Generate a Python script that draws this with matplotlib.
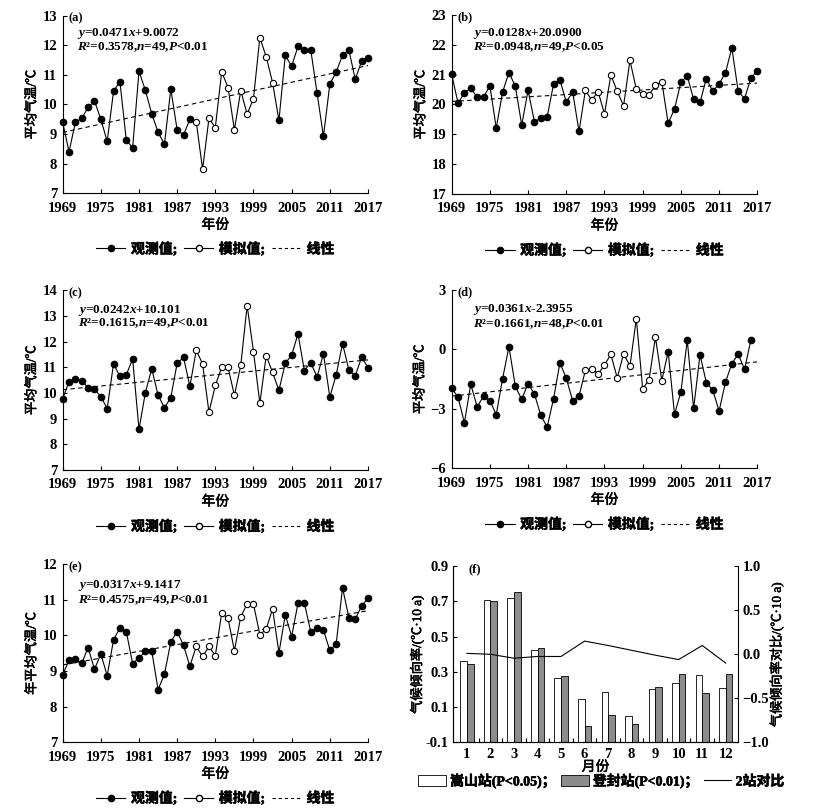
import numpy as np
import matplotlib.pyplot as plt
import matplotlib.patheffects as pe
from matplotlib.lines import Line2D
from matplotlib.patches import Patch

plt.rcParams['font.family'] = ['Liberation Serif', 'Noto Sans CJK SC']
plt.rcParams['font.weight'] = 'bold'
plt.rcParams['font.size'] = 9
plt.rcParams['mathtext.fontset'] = 'custom'
plt.rcParams['mathtext.rm'] = 'Liberation Serif:bold'
plt.rcParams['mathtext.it'] = 'Liberation Serif:italic:bold'
plt.rcParams['mathtext.bf'] = 'Liberation Serif:bold'
plt.rcParams['axes.linewidth'] = 0.8

# fake-bold for the CJK labels
bold_fx = [pe.withStroke(linewidth=0.4, foreground='k')]

years = np.arange(1969, 2018)
sim_years = (1990, 2002)   # simulated values, open markers

# (a)
temp_a = [9.40, 8.40, 9.40, 9.53, 9.90, 10.12, 9.50, 8.75, 10.45, 10.77,
          8.80, 8.54, 11.12, 10.48, 9.69, 9.06, 8.66, 10.52, 9.14, 8.97,
          9.50, 9.41, 7.81, 9.53, 9.22, 11.10, 10.57, 9.14, 10.47, 9.67,
          10.20, 12.26, 11.61, 10.74, 9.46, 11.66, 11.29, 11.96, 11.84, 11.85,
          10.38, 8.92, 10.68, 11.10, 11.66, 11.84, 10.85, 11.46, 11.58]
# (b)
temp_b = [21.02, 20.04, 20.39, 20.55, 20.24, 20.24, 20.63, 19.21, 20.42, 21.07,
          20.61, 19.31, 20.47, 19.42, 19.54, 19.59, 20.68, 20.82, 20.08, 20.42,
          19.10, 20.47, 20.15, 20.43, 19.68, 20.99, 20.44, 19.96, 21.48, 20.51,
          20.34, 20.33, 20.64, 20.77, 19.37, 19.85, 20.75, 20.96, 20.17, 20.07,
          20.87, 20.44, 20.69, 21.06, 21.90, 20.44, 20.20, 20.89, 21.13]
# (c)
temp_c = [9.77, 10.44, 10.55, 10.47, 10.21, 10.14, 9.86, 9.39, 11.14, 10.64,
          10.71, 11.32, 8.58, 10.01, 10.94, 9.92, 9.42, 9.82, 11.16, 11.38,
          10.26, 11.66, 11.13, 9.25, 10.29, 11.00, 11.00, 9.90, 11.08, 13.40,
          11.61, 9.60, 11.45, 10.80, 10.10, 11.16, 11.47, 12.30, 10.87, 11.18,
          10.62, 11.53, 9.84, 10.70, 11.92, 10.90, 10.66, 11.39, 10.99]
# (d) 1969-2016 only
temp_d = [-1.95, -2.42, -3.70, -1.76, -2.89, -2.37, -2.59, -3.29, -1.47, 0.13,
          -1.87, -2.52, -1.73, -2.25, -3.33, -3.92, -2.49, -0.67, -1.46, -2.59,
          -2.35, -1.06, -0.97, -1.24, -0.79, -0.25, -1.44, -0.22, -0.84, 1.55,
          -2.00, -1.53, 0.62, -1.57, -0.12, -3.27, -2.15, 0.47, -2.98, -0.27,
          -1.68, -2.05, -3.11, -1.66, -0.72, -0.24, -1.01, 0.50]
# (e)
temp_e = [8.90, 9.30, 9.33, 9.22, 9.66, 9.05, 9.48, 8.87, 9.88, 10.21,
          10.11, 9.21, 9.37, 9.55, 9.57, 8.48, 8.91, 9.82, 10.11, 9.72,
          9.14, 9.69, 9.41, 9.69, 9.43, 10.63, 10.48, 9.57, 10.53, 10.88,
          10.88, 10.02, 10.18, 10.75, 9.51, 10.58, 9.97, 10.91, 10.91, 10.11,
          10.20, 10.15, 9.58, 9.76, 11.34, 10.50, 10.46, 10.83, 11.04]

slopes = [0.0471, 0.0128, 0.0242, 0.0361, 0.0317]
intercepts = [9.0072, 20.0900, 10.101, -2.3955, 9.1417]
eq_lines = [
    (r'$y$=0.0471$x$+9.0072', r'$R$²=0.3578,$n$=49,$P$<0.01'),
    (r'$y$=0.0128$x$+20.0900', r'$R$²=0.0948,$n$=49,$P$<0.05'),
    (r'$y$=0.0242$x$+10.101', r'$R$²=0.1615,$n$=49,$P$<0.01'),
    (r'$y$=0.0361$x$-2.3955', r'$R$²=0.1661,$n$=48,$P$<0.01'),
    (r'$y$=0.0317$x$+9.1417', r'$R$²=0.4575,$n$=49,$P$<0.01'),
]

# (f)
months = np.arange(1, 13)
rate_songshan = [0.364, 0.709, 0.718, 0.425, 0.267, 0.148, 0.184, 0.052, 0.201, 0.235, 0.284, 0.209]
rate_dengfeng = [0.347, 0.701, 0.754, 0.436, 0.275, -0.009, 0.057, 0.004, 0.213, 0.290, 0.178, 0.286]
rate_diff = [0.01, 0.0, -0.045, -0.025, -0.025, 0.15, 0.10, 0.045, -0.01, -0.06, 0.10, -0.10]

fig = plt.figure(figsize=(8.15, 8.10), dpi=100)

axes_pos = [
    [0.0769, 0.7614, 0.3746, 0.2193],
    [0.5542, 0.7605, 0.3750, 0.2210],
    [0.0769, 0.4198, 0.3746, 0.2219],
    [0.5542, 0.4219, 0.3750, 0.2201],
    [0.0769, 0.0836, 0.3746, 0.2198],
]
ylims = [(7, 13), (17, 23), (7, 14), (-6, 3), (7, 12)]
yticks = [np.arange(7, 14), np.arange(17, 24), np.arange(7, 15), [-6, -3, 0, 3], np.arange(7, 13)]
series = [temp_a, temp_b, temp_c, temp_d, temp_e]
tags = ['(a)', '(b)', '(c)', '(d)', '(e)']
ylabels = ['平均气温/℃'] * 4 + ['年平均气温/℃']
eq_pos = [(0.048, 0.90, 0.822), (0.071, 0.898, 0.819), (0.049, 0.889, 0.818),
          (0.071, 0.888, 0.810), (0.051, 0.88, 0.80)]

leg_handles = [
    Line2D([], [], color='k', lw=0.8, marker='o', ms=4.5, mfc='k', mec='k', label='观测值;'),
    Line2D([], [], color='k', lw=0.8, marker='o', ms=4.5, mfc='white', mec='k', label='模拟值;'),
    Line2D([], [], color='k', lw=0.8, ls=(0, (3, 2.5)), label='线性'),
]

for i in range(5):
    ax = fig.add_axes(axes_pos[i])
    vals = np.array(series[i])
    yrs = years[:len(vals)]
    sim = (yrs >= sim_years[0]) & (yrs <= sim_years[1])

    ax.plot(yrs, vals, color='k', lw=0.8, clip_on=False, zorder=2)
    ax.plot(yrs[~sim], vals[~sim], 'o', ms=4.5, mfc='k', mec='k', clip_on=False, zorder=3)
    ax.plot(yrs[sim], vals[sim], 'o', ms=4.5, mfc='white', mec='k', mew=0.8, clip_on=False, zorder=3)

    idx = years - 1968
    ax.plot(years, slopes[i] * idx + intercepts[i], color='k', lw=0.8,
            ls=(0, (4, 3)), zorder=1)

    ax.set_xlim(1969, 2017)
    ax.set_ylim(*ylims[i])
    ax.set_xticks(np.arange(1969, 2018, 6))
    ax.set_yticks(yticks[i])
    ax.tick_params(direction='in', length=3, width=0.8, labelsize=10.5)
    ax.tick_params(axis='x', pad=6)
    ax.tick_params(axis='y', pad=4)
    for s in ['top', 'right']:
        ax.spines[s].set_visible(False)

    ax.set_xlabel('年份', fontsize=10, labelpad=3, path_effects=bold_fx)
    ax.set_ylabel(ylabels[i], fontsize=9.5, labelpad=3, path_effects=bold_fx)

    ex, ey1, ey2 = eq_pos[i]
    ax.text(0.02, 0.985, tags[i], transform=ax.transAxes, ha='left', va='center', fontsize=9)
    ax.text(ex, ey1, eq_lines[i][0], transform=ax.transAxes, ha='left', va='center', fontsize=9.5)
    ax.text(ex, ey2, eq_lines[i][1], transform=ax.transAxes, ha='left', va='center', fontsize=9.5)

    leg = ax.legend(handles=leg_handles, loc='center', bbox_to_anchor=(0.5, -0.315), ncol=3,
                    frameon=False, fontsize=10, handlelength=2.1, handletextpad=0.4,
                    columnspacing=0.5, borderpad=0)
    for t in leg.get_texts():
        t.set_path_effects(bold_fx)

# (f) monthly climate tendency rate
axf = fig.add_axes([0.5562, 0.0836, 0.3490, 0.2173])
w = 0.28
axf.bar(months - w / 2, np.array(rate_songshan) + 0.1, width=w, bottom=-0.1,
        color='white', edgecolor='k', lw=0.6, zorder=2)
axf.bar(months + w / 2, np.array(rate_dengfeng) + 0.1, width=w, bottom=-0.1,
        color='#8c8c8c', edgecolor='k', lw=0.6, zorder=2)
axf.set_xlim(0.42, 12.51)
axf.set_ylim(-0.1, 0.9)
axf.set_yticks([-0.1, 0.1, 0.3, 0.5, 0.7, 0.9])
axf.set_yticklabels(['-0.1', '0.1', '0.3', '0.5', '0.7', '0.9'])
axf.set_xticks(months)
axf.set_xticks(np.arange(1.5, 12.5, 1), minor=True)
axf.tick_params(axis='x', which='major', length=0, labelsize=10.5, pad=4)
axf.tick_params(axis='x', which='minor', direction='in', length=3, width=0.8)
axf.tick_params(axis='y', direction='in', length=3, width=0.8, labelsize=10.5)
axf.spines['top'].set_visible(False)
axf.spines['right'].set_visible(False)
axf.set_xlabel('月份', fontsize=10, labelpad=0, path_effects=bold_fx)
axf.set_ylabel('气候倾向率/(℃·10 a)', fontsize=9.5, labelpad=1, path_effects=bold_fx)
axf.text(0.053, 0.985, '(f)', transform=axf.transAxes, ha='left', va='center', fontsize=9)

axr = axf.twinx()
axr.plot(months, rate_diff, color='k', lw=0.8)
axr.set_ylim(-1.0, 1.0)
axr.set_yticks([-1.0, -0.5, 0.0, 0.5, 1.0])
axr.set_yticklabels(['−1.0', '−0.5', '0.0', '0.5', '1.0'])
axr.tick_params(axis='y', direction='in', length=3, width=0.8, labelsize=10.5)
axr.spines['top'].set_visible(False)
axr.set_ylabel('气候倾向率对比/(℃·10 a)', fontsize=9.5, labelpad=0, rotation=90,
               path_effects=bold_fx)

f_handles = [
    Patch(facecolor='white', edgecolor='k', lw=0.6, label='嵩山站(P<0.05)；'),
    Patch(facecolor='#8c8c8c', edgecolor='k', lw=0.6, label='登封站(P<0.01)；'),
    Line2D([], [], color='k', lw=0.8, label='2站对比'),
]
legf = axf.legend(handles=f_handles, loc='center', bbox_to_anchor=(0.52, -0.22), ncol=3,
                  frameon=False, fontsize=10, handlelength=2.0, handleheight=0.8,
                  handletextpad=0.3, columnspacing=0.4, borderpad=0)
for t in legf.get_texts():
    t.set_path_effects(bold_fx)

fig.savefig('out.png', dpi=100)
